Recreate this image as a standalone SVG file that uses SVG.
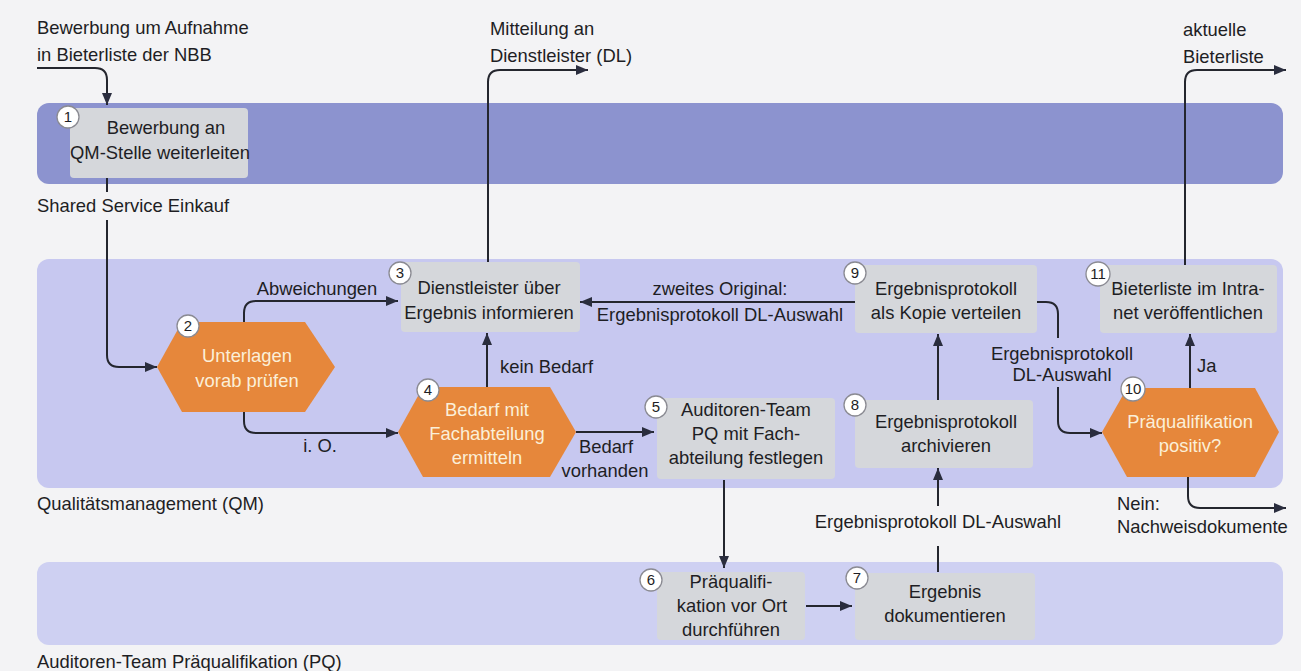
<svg xmlns="http://www.w3.org/2000/svg" width="1301" height="671" viewBox="0 0 1301 671">
<style>
text{font-family:"Liberation Sans",Arial,sans-serif;font-size:18.4px;fill:#1e1e24}
.c{text-anchor:middle}
.hx{fill:#fbefd8}
.box{fill:#d5d7db}
.hex{fill:#e6873b}
.lane1{fill:#8c93cf}
.lane2{fill:#c7c8f0}
.lane3{fill:#ced0f2}
.bd circle{fill:#ffffff;stroke:#8a8a92;stroke-width:1.3}
.bd text{font-size:15px;text-anchor:middle}
.ln{fill:none;stroke:#24262e;stroke-width:2}
</style>
<defs>
<marker id="ah" viewBox="0 0 12 10" refX="12" refY="5" markerWidth="12" markerHeight="10" markerUnits="userSpaceOnUse" orient="auto">
<path d="M0,0 L12,5 L0,10 z" fill="#2a2d3e"/>
</marker>
</defs>
<rect x="0" y="0" width="1301" height="671" fill="#f3f3f5"/>

<g id="lanes">
<rect class="lane1" x="37" y="103" width="1246" height="81" rx="12"/>
<rect class="lane2" x="37" y="259" width="1246" height="229" rx="12"/>
<rect class="lane3" x="37" y="562" width="1246" height="83" rx="12"/>
<text x="37" y="212">Shared Service Einkauf</text>
<text x="37" y="510">Qualitätsmanagement (QM)</text>
<text x="37" y="668">Auditoren-Team Präqualifikation (PQ)</text>
</g>

<g id="labels-outside">
<text x="37" y="34">Bewerbung um Aufnahme</text>
<text x="37" y="61">in Bieterliste der NBB</text>
<text x="490" y="35">Mitteilung an</text>
<text x="490" y="62">Dienstleister (DL)</text>
<text x="1183" y="36">aktuelle</text>
<text x="1183" y="63">Bieterliste</text>
</g>

<g id="connectors">
<path class="ln" d="M37,68 H95 Q107,68 107,80 V105" marker-end="url(#ah)"/>
<path class="ln" d="M107,178 V192"/>
<path class="ln" d="M107,220 V355 Q107,367 119,367 H157" marker-end="url(#ah)"/>
<path class="ln" d="M244,322 V313 Q244,301 256,301 H398" marker-end="url(#ah)"/>
<path class="ln" d="M244,412 V421 Q244,433 256,433 H398" marker-end="url(#ah)"/>
<path class="ln" d="M487,387 V333" marker-end="url(#ah)"/>
<path class="ln" d="M488,262 V82 Q488,70 500,70 H588" marker-end="url(#ah)"/>
<path class="ln" d="M576,432 H654" marker-end="url(#ah)"/>
<path class="ln" d="M724,480 V568" marker-end="url(#ah)"/>
<path class="ln" d="M806,606 H852" marker-end="url(#ah)"/>
<path class="ln" d="M938,572 V546"/>
<path class="ln" d="M938,506 V468" marker-end="url(#ah)"/>
<path class="ln" d="M938,400 V334" marker-end="url(#ah)"/>
<path class="ln" d="M855,302 H580" marker-end="url(#ah)"/>
<path class="ln" d="M1037,302 H1046 Q1058,302 1058,314 V338"/>
<path class="ln" d="M1058,387 V421 Q1058,433 1070,433 H1102" marker-end="url(#ah)"/>
<path class="ln" d="M1190,388 V334" marker-end="url(#ah)"/>
<path class="ln" d="M1185,265 V82 Q1185,70 1197,70 H1286" marker-end="url(#ah)"/>
<path class="ln" d="M1188,477 V496 Q1188,508 1200,508 H1286" marker-end="url(#ah)"/>
<text class="c" x="317" y="295">Abweichungen</text>
<text class="c" x="320" y="452">i. O.</text>
<text x="500" y="373">kein Bedarf</text>
<text class="c" x="606" y="453">Bedarf</text>
<text class="c" x="605" y="477">vorhanden</text>
<text class="c" x="720" y="295">zweites Original:</text>
<text class="c" x="720" y="321">Ergebnisprotokoll DL-Auswahl</text>
<text class="c" x="1062" y="360">Ergebnisprotokoll</text>
<text class="c" x="1062" y="381">DL-Auswahl</text>
<text x="1197" y="372">Ja</text>
<text x="1117" y="510">Nein:</text>
<text x="1117" y="533">Nachweisdokumente</text>
<text class="c" x="938" y="528">Ergebnisprotokoll DL-Auswahl</text>
</g>

<g id="n1">
<rect class="box" x="70" y="108" width="178" height="70" rx="4"/>
<text class="c" x="166" y="134">Bewerbung an</text>
<text class="c" x="160" y="159">QM-Stelle weiterleiten</text>
<g class="bd"><circle cx="68" cy="117" r="11"/><text x="68" y="122">1</text></g>
</g>

<g id="n2">
<polygon class="hex" points="157,367 182,322 305,322 335,367 305,412 182,412"/>
<text class="c hx" x="247" y="362">Unterlagen</text>
<text class="c hx" x="247" y="387">vorab prüfen</text>
<g class="bd"><circle cx="188" cy="326" r="11"/><text x="188" y="331">2</text></g>
</g>

<g id="n3">
<rect class="box" x="401" y="262" width="179" height="70" rx="4"/>
<text class="c" x="489" y="294">Dienstleister über</text>
<text class="c" x="489" y="319">Ergebnis informieren</text>
<g class="bd"><circle cx="400" cy="273" r="11"/><text x="400" y="278">3</text></g>
</g>

<g id="n4">
<polygon class="hex" points="398,432 423,387 550,387 576,432 550,477 423,477"/>
<text class="c hx" x="487" y="416">Bedarf mit</text>
<text class="c hx" x="487" y="440">Fachabteilung</text>
<text class="c hx" x="487" y="464">ermitteln</text>
<g class="bd"><circle cx="428" cy="390" r="11"/><text x="428" y="395">4</text></g>
</g>

<g id="n5">
<rect class="box" x="657" y="398" width="178" height="81" rx="4"/>
<text class="c" x="746" y="416">Auditoren-Team</text>
<text class="c" x="746" y="440">PQ mit Fach-</text>
<text class="c" x="746" y="464">abteilung festlegen</text>
<g class="bd"><circle cx="656" cy="407" r="11"/><text x="656" y="412">5</text></g>
</g>

<g id="n6">
<rect class="box" x="657" y="572" width="148" height="68" rx="4"/>
<text class="c" x="731" y="588">Präqualifi-</text>
<text class="c" x="732" y="612">kation vor Ort</text>
<text class="c" x="731" y="636">durchführen</text>
<g class="bd"><circle cx="651" cy="580" r="11"/><text x="651" y="585">6</text></g>
</g>

<g id="n7">
<rect class="box" x="855" y="573" width="180" height="67" rx="4"/>
<text class="c" x="945" y="598">Ergebnis</text>
<text class="c" x="945" y="622">dokumentieren</text>
<g class="bd"><circle cx="857" cy="578" r="11"/><text x="857" y="583">7</text></g>
</g>

<g id="n8">
<rect class="box" x="855" y="400" width="178" height="68" rx="4"/>
<text class="c" x="946" y="428">Ergebnisprotokoll</text>
<text class="c" x="946" y="452">archivieren</text>
<g class="bd"><circle cx="855" cy="405" r="11"/><text x="855" y="410">8</text></g>
</g>

<g id="n9">
<rect class="box" x="855" y="265" width="182" height="68" rx="4"/>
<text class="c" x="946" y="295">Ergebnisprotokoll</text>
<text class="c" x="946" y="319">als Kopie verteilen</text>
<g class="bd"><circle cx="855" cy="273" r="11"/><text x="855" y="278">9</text></g>
</g>

<g id="n10">
<polygon class="hex" points="1102,432 1127,388 1255,388 1279,432 1255,477 1127,477"/>
<text class="c hx" x="1190" y="428">Präqualifikation</text>
<text class="c hx" x="1190" y="452">positiv?</text>
<g class="bd"><circle cx="1133" cy="389" r="12"/><text x="1133" y="394">10</text></g>
</g>

<g id="n11">
<rect class="box" x="1100" y="265" width="177" height="68" rx="4"/>
<text class="c" x="1188" y="295">Bieterliste im Intra-</text>
<text class="c" x="1188" y="319">net veröffentlichen</text>
<g class="bd"><circle cx="1098" cy="274" r="12"/><text x="1098" y="279">11</text></g>
</g>
</svg>
